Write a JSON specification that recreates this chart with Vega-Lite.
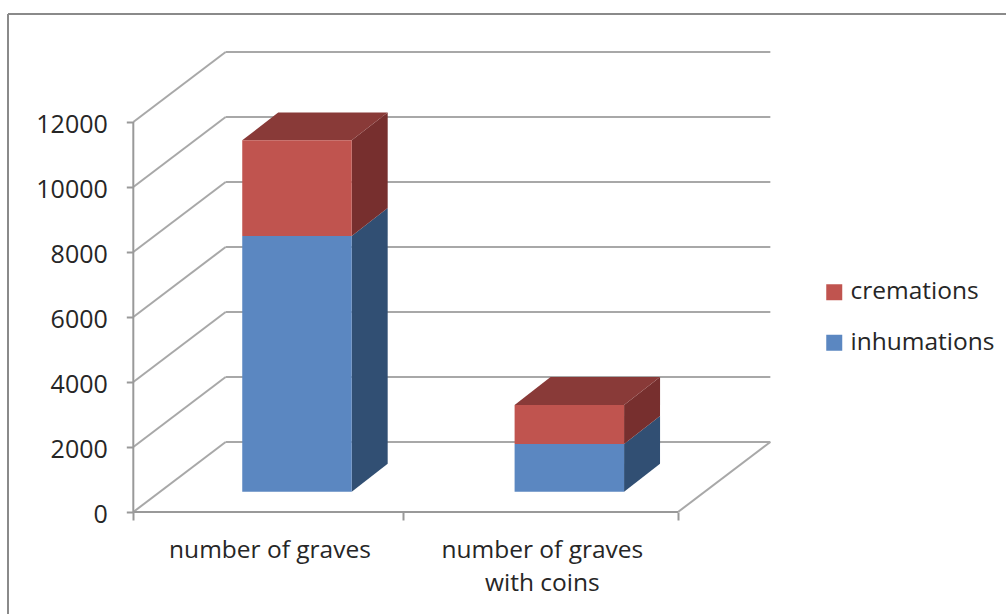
{
  "$schema": "https://vega.github.io/schema/vega-lite/v6.json",
  "width": 998,
  "height": 600,
  "autosize": "none",
  "padding": {"left": 8, "top": 14, "right": 0, "bottom": 0},
  "background": "white",
  "view": {"stroke": null},
  "config": {"font": "Open Sans"},
  "datasets": {
    "graves": [
      {"group": "number of graves", "series": "inhumations", "count": 7870},
      {"group": "number of graves", "series": "cremations", "count": 2940},
      {"group": "number of graves with coins", "series": "inhumations", "count": 1470},
      {"group": "number of graves with coins", "series": "cremations", "count": 1200}
    ],
    "levels": [
      {"level": 0}, {"level": 2000}, {"level": 4000}, {"level": 6000},
      {"level": 8000}, {"level": 10000}, {"level": 12000}
    ],
    "single": [{"row": 1}]
  },
  "layer": [
    {
      "description": "chart frame, left edge",
      "data": {"name": "single"},
      "mark": {"type": "rule", "stroke": "#8a8a8a", "strokeWidth": 2},
      "encoding": {
        "x": {"datum": -0.4601, "type": "quantitative", "axis": null, "scale": {"domain": [-0.4601, 3.2043], "nice": false, "zero": false}},
        "y": {"datum": 15323, "type": "quantitative", "axis": null, "scale": {"domain": [-3138, 15323], "nice": false, "zero": false}},
        "y2": {"datum": -3138}
      }
    },
    {
      "description": "chart frame, top edge",
      "data": {"name": "single"},
      "mark": {"type": "rule", "stroke": "#8a8a8a", "strokeWidth": 2},
      "encoding": {
        "x": {"datum": -0.4601, "type": "quantitative", "axis": null, "scale": {"domain": [-0.4601, 3.2043], "nice": false, "zero": false}},
        "x2": {"datum": 3.2043},
        "y": {"datum": 15323, "type": "quantitative", "axis": null, "scale": {"domain": [-3138, 15323], "nice": false, "zero": false}}
      }
    },
    {
      "description": "gridlines on the back wall",
      "data": {"name": "levels"},
      "transform": [{"calculate": "datum.level + 2154", "as": "backLevel"}],
      "mark": {"type": "rule", "stroke": "#a8a8a8", "strokeWidth": 2},
      "encoding": {
        "x": {"datum": 0.339, "type": "quantitative", "axis": null, "scale": {"domain": [-0.4601, 3.2043], "nice": false, "zero": false}},
        "x2": {"datum": 2.339},
        "y": {"field": "backLevel", "type": "quantitative", "axis": null, "scale": {"domain": [-3138, 15323], "nice": false, "zero": false}}
      }
    },
    {
      "description": "gridlines on the side wall, carrying the value axis",
      "data": {"name": "levels"},
      "transform": [{"calculate": "datum.level + 2154", "as": "backLevel"}],
      "mark": {"type": "rule", "stroke": "#a8a8a8", "strokeWidth": 2},
      "encoding": {
        "x": {"datum": 0, "type": "quantitative", "axis": null, "scale": {"domain": [-0.4601, 3.2043], "nice": false, "zero": false}},
        "x2": {"datum": 0.339},
        "y": {
          "field": "level", "type": "quantitative",
          "scale": {"domain": [-3138, 15323], "nice": false, "zero": false},
          "axis": {
            "orient": "left", "offset": -125.3, "title": null, "domain": false, "grid": false,
            "values": [0, 2000, 4000, 6000, 8000, 10000, 12000], "format": "d",
            "tickColor": "#999999", "tickWidth": 2, "tickSize": 7, "labelPadding": 19, "labelOffset": 2,
            "labelFont": "Open Sans", "labelFontSize": 25, "labelColor": "#262626"
          }
        },
        "y2": {"field": "backLevel"}
      }
    },
    {
      "description": "floor edge on the right",
      "data": {"name": "single"},
      "mark": {"type": "rule", "stroke": "#a8a8a8", "strokeWidth": 2},
      "encoding": {
        "x": {"datum": 2, "type": "quantitative", "axis": null, "scale": {"domain": [-0.4601, 3.2043], "nice": false, "zero": false}},
        "x2": {"datum": 2.339},
        "y": {"datum": 0, "type": "quantitative", "axis": null, "scale": {"domain": [-3138, 15323], "nice": false, "zero": false}},
        "y2": {"datum": 2154}
      }
    },
    {
      "description": "vertical axis line",
      "data": {"name": "single"},
      "mark": {"type": "rule", "stroke": "#999999", "strokeWidth": 2},
      "encoding": {
        "x": {"datum": 0, "type": "quantitative", "axis": null, "scale": {"domain": [-0.4601, 3.2043], "nice": false, "zero": false}},
        "y": {"datum": 0, "type": "quantitative", "axis": null, "scale": {"domain": [-3138, 15323], "nice": false, "zero": false}},
        "y2": {"datum": 12000}
      }
    },
    {
      "description": "category axis line with its ticks",
      "data": {"name": "single"},
      "mark": {"type": "rule", "stroke": "#999999", "strokeWidth": 2},
      "encoding": {
        "x": {
          "datum": 0, "type": "quantitative",
          "scale": {"domain": [-0.4601, 3.2043], "nice": false, "zero": false},
          "axis": {
            "orient": "bottom", "offset": -102, "title": null, "domain": false, "grid": false, "labels": false,
            "values": [0, 0.992, 2], "tickColor": "#999999", "tickWidth": 2, "tickSize": 8
          }
        },
        "x2": {"datum": 2},
        "y": {"datum": 0, "type": "quantitative", "axis": null, "scale": {"domain": [-3138, 15323], "nice": false, "zero": false}}
      }
    },
    {
      "description": "right-hand faces of the boxes",
      "data": {"name": "graves"},
      "transform": [
        {"stack": "count", "groupby": ["group"], "sort": [{"field": "series", "order": "descending"}], "as": ["from", "to"]},
        {"calculate": "[0, 1]", "as": "depth"},
        {"flatten": ["depth"]},
        {"calculate": "indexof(['number of graves', 'number of graves with coins'], datum.group) + 0.802 + datum.depth * 0.132", "as": "edge"},
        {"calculate": "datum.from + 625 + datum.depth * 860", "as": "low"},
        {"calculate": "datum.to + 625 + datum.depth * 860", "as": "high"},
        {"calculate": "datum.group + datum.series", "as": "box"}
      ],
      "mark": {"type": "area", "opacity": 1},
      "encoding": {
        "detail": {"field": "box"},
        "x": {"field": "edge", "type": "quantitative", "axis": null, "scale": {"domain": [-0.4601, 3.2043], "nice": false, "zero": false}},
        "y": {"field": "low", "type": "quantitative", "axis": null, "scale": {"domain": [-3138, 15323], "nice": false, "zero": false}},
        "y2": {"field": "high"},
        "fill": {"condition": {"test": "datum.series === 'cremations'", "value": "#772F2E"}, "value": "#314F73"}
      }
    },
    {
      "description": "top faces of the boxes",
      "data": {"name": "graves"},
      "transform": [
        {"stack": "count", "groupby": ["group"], "sort": [{"field": "series", "order": "descending"}], "as": ["from", "to"]},
        {"filter": "datum.series === 'cremations'"},
        {"calculate": "[0, 1]", "as": "depth"},
        {"flatten": ["depth"]},
        {"calculate": "indexof(['number of graves', 'number of graves with coins'], datum.group) + 0.4 + datum.depth * 0.132", "as": "left"},
        {"calculate": "datum.left + 0.402", "as": "right"},
        {"calculate": "datum.to + 625 + datum.depth * 860", "as": "level"}
      ],
      "mark": {"type": "area", "orient": "horizontal", "fill": "#893A38", "opacity": 1},
      "encoding": {
        "detail": {"field": "group"},
        "y": {"field": "level", "type": "quantitative", "axis": null, "scale": {"domain": [-3138, 15323], "nice": false, "zero": false}},
        "x": {"field": "left", "type": "quantitative", "axis": null, "scale": {"domain": [-0.4601, 3.2043], "nice": false, "zero": false}},
        "x2": {"field": "right"}
      }
    },
    {
      "description": "front faces of the boxes, carrying the category labels and the legend",
      "data": {"name": "graves"},
      "transform": [
        {"stack": "count", "groupby": ["group"], "sort": [{"field": "series", "order": "descending"}], "as": ["from", "to"]},
        {"calculate": "indexof(['number of graves', 'number of graves with coins'], datum.group) + 0.4", "as": "left"},
        {"calculate": "datum.left + 0.402", "as": "right"},
        {"calculate": "datum.from + 625", "as": "low"},
        {"calculate": "datum.to + 625", "as": "high"}
      ],
      "mark": {"type": "rect"},
      "encoding": {
        "x": {
          "field": "left", "type": "quantitative",
          "scale": {"domain": [-0.4601, 3.2043], "nice": false, "zero": false},
          "axis": {
            "orient": "bottom", "offset": -102, "title": null, "domain": false, "grid": false, "ticks": false,
            "values": [0.5, 1.5], "labelPadding": 26.5, "labelOverlap": false, "labelBound": false, "labelFlush": false, "labelLimit": 400,
            "labelExpr": "datum.value < 1 ? 'number of graves' : ['number of graves', 'with coins']",
            "labelFont": "Open Sans", "labelFontSize": 24.5, "labelLineHeight": 33, "labelColor": "#262626", "labelBaseline": "top"
          }
        },
        "x2": {"field": "right"},
        "y": {"field": "low", "type": "quantitative", "axis": null, "scale": {"domain": [-3138, 15323], "nice": false, "zero": false}},
        "y2": {"field": "high"},
        "color": {
          "field": "series", "type": "nominal",
          "scale": {"domain": ["cremations", "inhumations"], "range": ["#C0544F", "#5B87C1"]},
          "legend": {
            "orient": "none", "legendX": 814, "legendY": 266, "title": null,
            "symbolType": "square", "symbolSize": 256, "symbolStrokeWidth": 0, "symbolOpacity": 1,
            "labelFont": "Open Sans", "labelFontSize": 24.5, "labelColor": "#262626", "labelOffset": 4,
            "rowPadding": 25.5, "labelLimit": 200
          }
        }
      }
    }
  ],
  "resolve": {"axis": {"x": "independent", "y": "independent"}}
}
